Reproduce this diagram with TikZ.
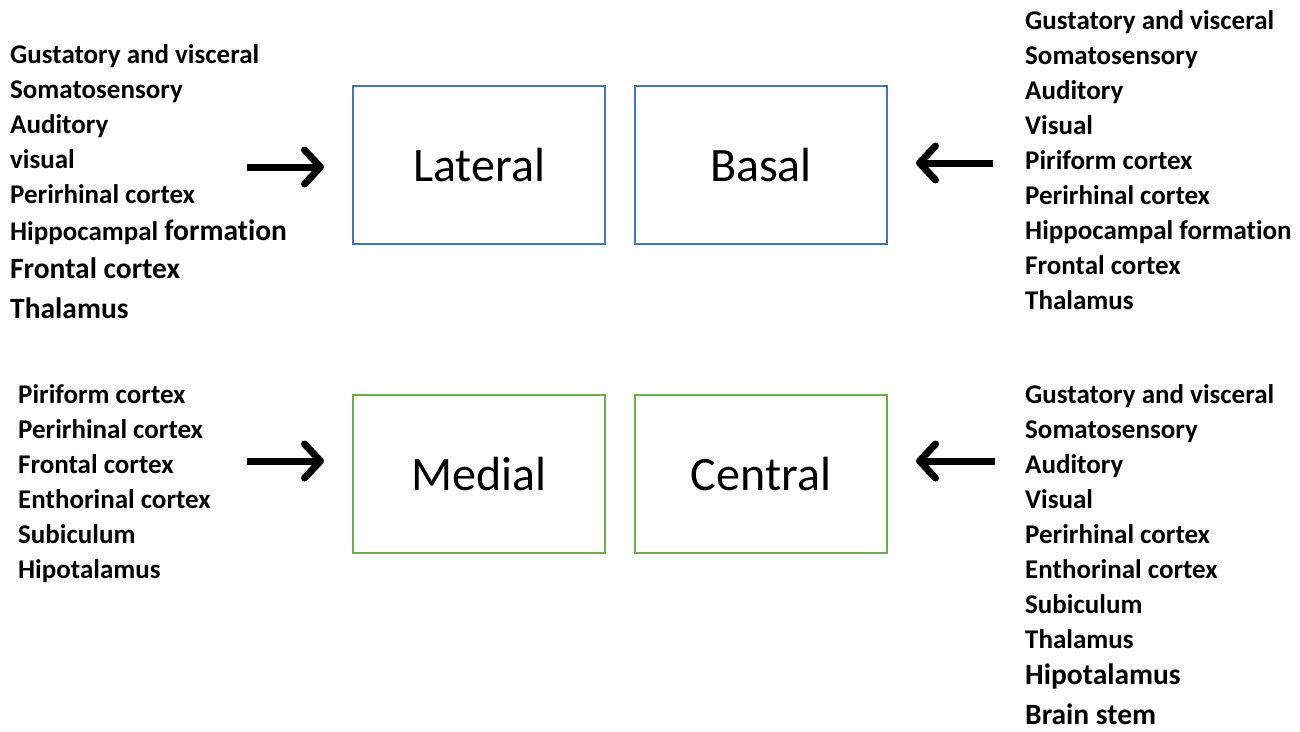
\documentclass[tikz,border=0pt]{standalone}
\usepackage{fontspec}
\setmainfont{Carlito}[Ligatures=NoCommon]
\usetikzlibrary{positioning, arrows.meta}
\definecolor{boxblue}{HTML}{4472C4}
\definecolor{boxgreen}{HTML}{70AD47}
\newcommand{\bigitem}{\fontsize{29.5}{38}\selectfont}

\begin{document}
\begin{tikzpicture}[x=1pt, y=-1pt,
    region/.style={draw, line width=2pt, minimum width=252pt, minimum height=158pt,
        font=\fontsize{48}{52}\selectfont},
    inputs/.style={anchor=north west, align=left, inner sep=0pt,
        font=\bfseries\fontsize{27}{35}\selectfont},
    bigarrow/.style={line width=7pt, -{Straight Barb[round, length=16pt, width=34pt]}}]
    \useasboundingbox (0,0) rectangle (1300,731);
    % nuclei
    \node[region, draw=boxblue] (lateral) at (479,165) {Lateral};
    \node[region, draw=boxblue] (basal) [right=28pt of lateral] {Basal};
    \node[region, draw=boxgreen] (medial) [below=149pt of lateral] {Medial};
    \node[region, draw=boxgreen] (central) [right=28pt of medial] {Central};
    % inputs
    \node[inputs] (lateral-in) at (10,44.5) {Gustatory and visceral\\ Somatosensory\\ Auditory\\ visual\\
        Perirhinal cortex\\[2pt] Hippocampal {\bigitem formation}\\[3pt] {\bigitem Frontal cortex}\\[5pt]
        {\bigitem Thalamus}};
    \node[inputs] (basal-in) at (1025,10.5) {Gustatory and visceral\\ Somatosensory\\ Auditory\\ Visual\\
        Piriform cortex\\ Perirhinal cortex\\ Hippocampal formation\\ Frontal cortex\\ Thalamus};
    \node[inputs] (medial-in) at (18,384.5) {Piriform cortex\\ Perirhinal cortex\\ Frontal cortex\\
        Enthorinal cortex\\ Subiculum\\ Hipotalamus};
    \node[inputs] (central-in) at (1025,384.5) {Gustatory and visceral\\ Somatosensory\\ Auditory\\ Visual\\
        Perirhinal cortex\\ Enthorinal cortex\\ Subiculum\\ Thalamus\\[1pt] {\bigitem Hipotalamus}\\[5pt]
        {\bigitem Brain stem}};
    % arrows
    \coordinate (lateral-tail) at (247,167);
    \coordinate (basal-tail) at (993,163);
    \coordinate (medial-tail) at (247,461);
    \coordinate (central-tail) at (995,461);
    \draw[bigarrow] (lateral-tail) -- ([xshift=-28pt, yshift=-2pt]lateral.west);
    \draw[bigarrow] (basal-tail) -- ([xshift=28pt, yshift=2pt]basal.east);
    \draw[bigarrow] (medial-tail) -- ([xshift=-28pt, yshift=13pt]medial.west);
    \draw[bigarrow] (central-tail) -- ([xshift=28pt, yshift=13pt]central.east);
\end{tikzpicture}
\end{document}
